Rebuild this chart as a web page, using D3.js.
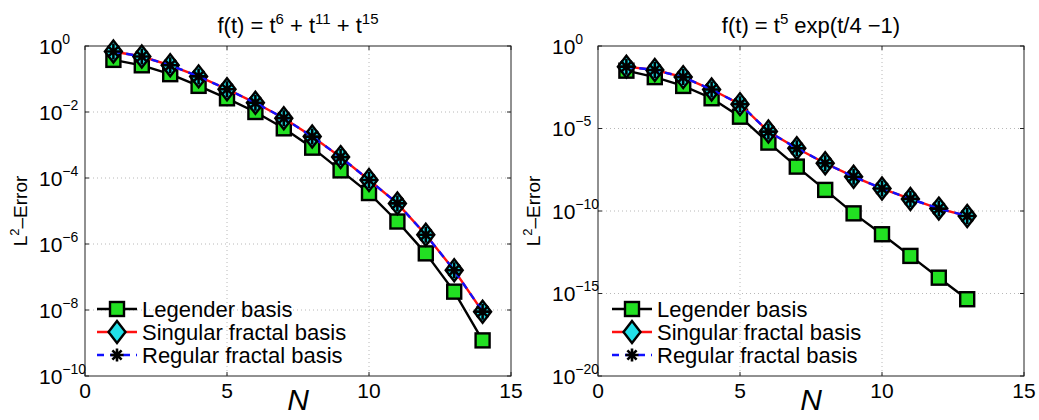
<!DOCTYPE html>
<html>
<head>
<meta charset="utf-8">
<script src="https://cdn.jsdelivr.net/npm/d3@7"></script>
<style>
  html, body { margin: 0; padding: 0; background: #fff; }
  svg { display: block; }
  text { font-family: "Liberation Sans", Arial, Helvetica, sans-serif; fill: #000; }
</style>
</head>
<body>
<svg id="chart" width="1039" height="420"></svg>
<script>
// Basis sizes
const nLeft = [1, 2, 3, 4, 5, 6, 7, 8, 9, 10, 11, 12, 13, 14];
const nRight = [1, 2, 3, 4, 5, 6, 7, 8, 9, 10, 11, 12, 13];

// L2 errors for f(t) = t^6 + t^11 + t^15
const legendreLeft = [3.8e-1, 2.6e-1, 1.4e-1, 6.2e-2, 2.6e-2, 1.0e-2, 3.2e-3, 8.3e-4, 1.7e-4, 3.5e-5, 4.8e-6, 5.2e-7, 3.6e-8, 1.2e-9];
const singularLeft = [6.8e-1, 4.8e-1, 2.6e-1, 1.2e-1, 4.9e-2, 1.9e-2, 6.5e-3, 1.8e-3, 4.3e-4, 8.7e-5, 1.7e-5, 1.9e-6, 1.6e-7, 8.9e-9];
const regularLeft  = [6.8e-1, 4.8e-1, 2.6e-1, 1.2e-1, 4.9e-2, 1.9e-2, 6.5e-3, 1.8e-3, 4.3e-4, 8.7e-5, 1.7e-5, 1.9e-6, 1.6e-7, 8.9e-9];

// L2 errors for f(t) = t^5 exp(t/4 - 1)
const legendreRight = [3.2e-2, 1.3e-2, 3.8e-3, 6.8e-4, 5.2e-5, 1.4e-6, 4.9e-8, 1.9e-9, 7.2e-11, 3.9e-12, 1.9e-13, 9.1e-15, 4.5e-16];
const singularRight = [5.6e-2, 3.5e-2, 1.3e-2, 2.3e-3, 3.0e-4, 6.5e-6, 6.3e-7, 7.8e-8, 1.2e-8, 2.3e-9, 5.4e-10, 1.4e-10, 5.0e-11];
const regularRight  = [5.6e-2, 3.5e-2, 1.3e-2, 2.3e-3, 3.0e-4, 6.5e-6, 6.3e-7, 7.8e-8, 1.2e-8, 2.3e-9, 5.4e-10, 1.4e-10, 5.0e-11];

// Axis ticks
const xTicks = [0, 5, 10, 15];
const yExpLeft = [0, -2, -4, -6, -8, -10];
const yExpRight = [0, -5, -10, -15, -20];

const seriesNames = ["Legender basis", "Singular fractal basis", "Regular fractal basis"];

const svg = d3.select("#chart");
svg.append("rect").attr("width", 1039).attr("height", 420).attr("fill", "#fff");

function asteriskPath(r) {
  const d = r * Math.SQRT1_2;
  return `M${-r},0L${r},0M0,${-r}L0,${r}M${-d},${-d}L${d},${d}M${-d},${d}L${d},${-d}`;
}

function drawSquare(g, x, y) {
  g.append("rect").attr("x", x - 7).attr("y", y - 7).attr("width", 14).attr("height", 14)
    .attr("fill", "#22e022").attr("stroke", "#000").attr("stroke-width", 2.4);
}
function drawDiamond(g, x, y) {
  g.append("path").attr("d", `M${x},${y - 11}L${x + 8.5},${y}L${x},${y + 11}L${x - 8.5},${y}Z`)
    .attr("fill", "#22e0e8").attr("stroke", "#000").attr("stroke-width", 2.4);
}
function drawAsterisk(g, x, y, r) {
  g.append("path").attr("d", asteriskPath(r)).attr("transform", `translate(${x},${y})`)
    .attr("fill", "none").attr("stroke", "#000").attr("stroke-width", 2.6);
}

function panel(opt) {
  const { x0, x1, y0, y1, yMinExp, yExps, n, legendre, singular, regular, title, legendX } = opt;
  const g = svg.append("g");
  const x = d3.scaleLinear().domain([0, 15]).range([x0, x1]);
  const y = d3.scaleLog().domain([Math.pow(10, yMinExp), 1]).range([y1, y0]);

  // grid
  const grid = g.append("g").attr("stroke", "#b8b8b8").attr("stroke-width", 1).attr("stroke-dasharray", "1,3");
  xTicks.slice(1, -1).forEach(t => {
    grid.append("line").attr("x1", x(t)).attr("x2", x(t)).attr("y1", y0).attr("y2", y1);
  });
  yExps.slice(1, -1).forEach(e => {
    grid.append("line").attr("x1", x0).attr("x2", x1).attr("y1", y(Math.pow(10, e))).attr("y2", y(Math.pow(10, e)));
  });

  // box and inward ticks on all sides
  const axisG = g.append("g").attr("stroke", "#222").attr("stroke-width", 1);
  axisG.append("rect").attr("x", x0).attr("y", y0).attr("width", x1 - x0).attr("height", y1 - y0).attr("fill", "none");
  const tl = 4;
  xTicks.forEach(t => {
    axisG.append("line").attr("x1", x(t)).attr("x2", x(t)).attr("y1", y1).attr("y2", y1 - tl);
    axisG.append("line").attr("x1", x(t)).attr("x2", x(t)).attr("y1", y0).attr("y2", y0 + tl);
  });
  yExps.forEach(e => {
    const yy = y(Math.pow(10, e));
    axisG.append("line").attr("x1", x0).attr("x2", x0 + tl).attr("y1", yy).attr("y2", yy);
    axisG.append("line").attr("x1", x1).attr("x2", x1 - tl).attr("y1", yy).attr("y2", yy);
  });

  // tick labels
  xTicks.forEach(t => {
    g.append("text").attr("x", x(t)).attr("y", y1 + 22).attr("text-anchor", "middle")
      .attr("font-size", 21).text(t);
  });
  yExps.forEach(e => {
    const yy = y(Math.pow(10, e));
    const t = g.append("text").attr("x", x0 - 46).attr("y", yy + 7.5).attr("font-size", 21);
    t.append("tspan").text("10");
    t.append("tspan").attr("dy", -10).attr("font-size", 14).text(e === 0 ? "0" : "\u2212" + Math.abs(e));
  });

  // axis titles
  const tt = g.append("text").attr("x", (x0 + x1) / 2).attr("y", 33).attr("text-anchor", "middle").attr("font-size", 22);
  title(tt);

  g.append("text").attr("x", (x0 + x1) / 2).attr("y", 410).attr("text-anchor", "middle")
    .attr("font-family", "'Liberation Serif', 'Times New Roman', serif").attr("font-style", "italic")
    .attr("font-size", 30).text("N");

  const yl = g.append("text").attr("transform", `translate(${x0 - 58},${(y0 + y1) / 2}) rotate(-90)`)
    .attr("text-anchor", "middle").attr("font-size", 19);
  yl.append("tspan").text("L");
  yl.append("tspan").attr("dy", -8).attr("font-size", 13).text("2");
  yl.append("tspan").attr("dy", 8).text("\u2013Error");

  // series
  const line = d3.line().x(d => x(d[0])).y(d => y(d[1]));
  const dL = n.map((v, i) => [v, legendre[i]]);
  const dS = n.map((v, i) => [v, singular[i]]);
  const dR = n.map((v, i) => [v, regular[i]]);

  g.append("path").datum(dL).attr("d", line).attr("fill", "none").attr("stroke", "#000").attr("stroke-width", 2.4);
  dL.forEach(d => drawSquare(g, x(d[0]), y(d[1])));

  g.append("path").datum(dS).attr("d", line).attr("fill", "none").attr("stroke", "#ff1010").attr("stroke-width", 2.4);
  dS.forEach(d => drawDiamond(g, x(d[0]), y(d[1])));

  g.append("path").datum(dR).attr("d", line).attr("fill", "none").attr("stroke", "#1010ff").attr("stroke-width", 2.4)
    .attr("stroke-dasharray", "7,6");
  dR.forEach(d => drawAsterisk(g, x(d[0]), y(d[1]), 8));

  // legend
  const rows = [309, 332, 355];
  const lg = g.append("g");
  const lx = legendX;
  lg.append("line").attr("x1", lx).attr("x2", lx + 40).attr("y1", rows[0]).attr("y2", rows[0]).attr("stroke", "#000").attr("stroke-width", 2.4);
  drawSquare(lg, lx + 20, rows[0]);
  lg.append("line").attr("x1", lx).attr("x2", lx + 40).attr("y1", rows[1]).attr("y2", rows[1]).attr("stroke", "#ff1010").attr("stroke-width", 2.4);
  drawDiamond(lg, lx + 20, rows[1]);
  lg.append("line").attr("x1", lx).attr("x2", lx + 40).attr("y1", rows[2]).attr("y2", rows[2]).attr("stroke", "#1010ff").attr("stroke-width", 2.4)
    .attr("stroke-dasharray", "7,6");
  drawAsterisk(lg, lx + 20, rows[2], 6.5);
  seriesNames.forEach((s, i) => {
    lg.append("text").attr("x", lx + 45).attr("y", rows[i]).attr("dominant-baseline", "central")
      .attr("font-size", 22).text(s);
  });
}

panel({
  x0: 85, x1: 511, y0: 46, y1: 376, yMinExp: -10, yExps: yExpLeft,
  n: nLeft, legendre: legendreLeft, singular: singularLeft, regular: regularLeft, legendX: 97,
  title: t => {
    t.append("tspan").text("f(t) = t");
    t.append("tspan").attr("dy", -9).attr("font-size", 15).text("6");
    t.append("tspan").attr("dy", 9).text(" + t");
    t.append("tspan").attr("dy", -9).attr("font-size", 15).text("11");
    t.append("tspan").attr("dy", 9).text(" + t");
    t.append("tspan").attr("dy", -9).attr("font-size", 15).text("15");
  }
});

panel({
  x0: 598, x1: 1024, y0: 46, y1: 376, yMinExp: -20, yExps: yExpRight,
  n: nRight, legendre: legendreRight, singular: singularRight, regular: regularRight, legendX: 612,
  title: t => {
    t.append("tspan").text("f(t) = t");
    t.append("tspan").attr("dy", -9).attr("font-size", 15).text("5");
    t.append("tspan").attr("dy", 9).text(" exp(t/4 \u22121)");
  }
});
</script>
</body>
</html>
